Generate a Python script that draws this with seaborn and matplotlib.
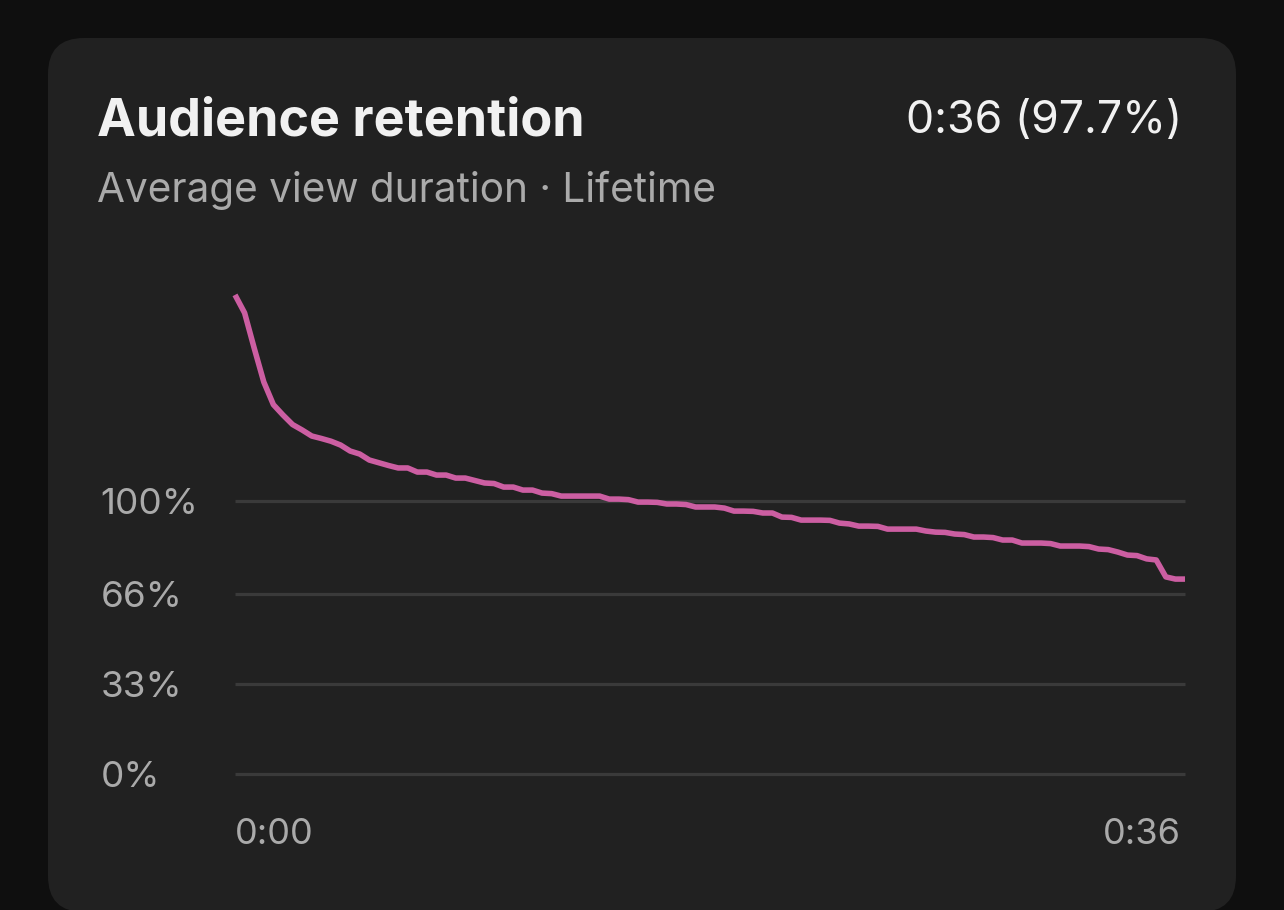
import matplotlib
matplotlib.use("Agg")
import matplotlib.pyplot as plt
import matplotlib.transforms as mtransforms
import seaborn as sns
import pandas as pd
from matplotlib.patches import FancyBboxPatch

# ---- data ----
title = "Audience retention"
subtitle = "Average view duration · Lifetime"
headline = "0:36 (97.7%)"
duration_s = 36
retention_pct = [
    175.5, 168.9, 156.0, 143.6, 135.3, 131.5, 128.0, 126.0, 123.8, 122.9,
    121.9, 120.5, 118.3, 117.2, 115.0, 114.0, 113.0, 112.1, 112.1, 110.6,
    110.6, 109.5, 109.5, 108.4, 108.4, 107.5, 106.6, 106.4, 105.1, 105.1,
    104.0, 104.0, 102.9, 102.7, 101.8, 101.8, 101.8, 101.8, 101.8, 100.7,
    100.7, 100.5, 99.6, 99.6, 99.5, 98.9, 98.9, 98.7, 97.8, 97.8,
    97.8, 97.4, 96.3, 96.3, 96.2, 95.6, 95.6, 94.1, 94.0, 93.0,
    93.0, 93.0, 92.9, 91.9, 91.6, 90.8, 90.8, 90.7, 89.7, 89.7,
    89.7, 89.7, 89.0, 88.6, 88.5, 87.9, 87.7, 86.8, 86.8, 86.6,
    85.7, 85.7, 84.6, 84.6, 84.6, 84.4, 83.5, 83.5, 83.5, 83.3,
    82.4, 82.2, 81.3, 80.2, 80.0, 78.8, 78.4, 72.2, 71.4, 71.4,
]
ytick_values = [0, 33, 66, 100]
ytick_labels = ["0%", "33%", "66%", "100%"]
xtick_values = [0, 36]
xtick_labels = ["0:00", "0:36"]

n = len(retention_pct)
time_s = [i * duration_s / (n - 1) for i in range(n)]
df = pd.DataFrame({"time": time_s, "retention": retention_pct})

# ---- style ----
sns.set_theme(style="dark")
plt.rcParams["font.family"] = ["Inter", "DejaVu Sans"]

W, H = 1284, 910
fig = plt.figure(figsize=(W / 100, H / 100), dpi=100)
fig.patch.set_facecolor("#0f0f0f")

# card
card = FancyBboxPatch((48 / W, (H - 912) / H), (1236 - 48) / W, (912 - 38) / H,
                      boxstyle="round,pad=0,rounding_size=0.028",
                      transform=fig.transFigure, facecolor="#212121",
                      edgecolor="none", mutation_aspect=W / H, zorder=-5)
fig.patches.append(card)

fig.text(97 / W, 1 - 136 / H, title, color="#f1f1f1", fontsize=37.5,
         fontweight="bold", ha="left", va="baseline")
fig.text(1182 / W, 1 - 133 / H, headline, color="#f1f1f1", fontsize=32.2,
         ha="right", va="baseline")
fig.text(97 / W, 1 - 202 / H, subtitle, color="#aaaaaa", fontsize=29.2,
         ha="left", va="baseline")

ax = fig.add_axes([235 / W, (H - 774) / H, 950 / W, 491.4 / H])
ax.set_zorder(2)
ax.set_facecolor("none")
for y in ytick_values:
    ax.axhline(y, color="#3a3a3a", lw=2.3, zorder=1, clip_on=False,
               solid_capstyle="butt")
sns.lineplot(data=df, x="time", y="retention", ax=ax, color="#cc5ea2",
             lw=4.0, zorder=3, clip_on=False, solid_capstyle="butt")
ax.set_xlim(0, duration_s)
ax.set_ylim(0, 180)
for s in ax.spines.values():
    s.set_visible(False)
ax.grid(False)
ax.set_xlabel("")
ax.set_ylabel("")

ax.set_yticks(ytick_values)
ax.set_yticklabels(ytick_labels)
ax.tick_params(axis="y", length=0, pad=97, labelsize=26.5, labelcolor="#aaaaaa")
for lab in ax.get_yticklabels():
    lab.set_horizontalalignment("left")

ax.set_xticks(xtick_values)
ax.set_xticklabels(xtick_labels)
ax.tick_params(axis="x", length=0, pad=31.5, labelsize=26, labelcolor="#aaaaaa")
xl = ax.get_xticklabels()
xl[0].set_horizontalalignment("left")
xl[-1].set_horizontalalignment("right")
xl[-1].set_transform(xl[-1].get_transform() +
                     mtransforms.ScaledTranslation(-4 / 100, 0, fig.dpi_scale_trans))

fig.savefig("out.png", dpi=100, facecolor=fig.get_facecolor())
